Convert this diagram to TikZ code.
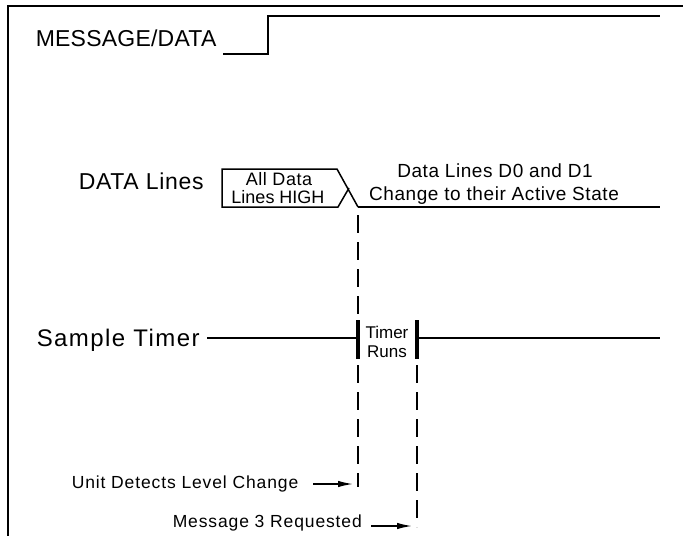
\documentclass[tikz,border=0pt]{standalone}
\usepackage{fontspec}
\setmainfont{Liberation Sans}
\usetikzlibrary{arrows.meta}

\newcommand{\cadfont}[2]{\fontsize{#1}{#1}\selectfont\addfontfeatures{LetterSpace=#2}}

\begin{document}
\begin{tikzpicture}[x=1pt, y=-1pt, line width=1.5pt,
    lbl/.style={inner sep=0pt, anchor=base west},
    ctr/.style={inner sep=0pt, anchor=base},
    bar/.style={line width=3.5pt},
    marker/.style={dash pattern=on 18pt off 9pt},
    arr/.style={-{Latex[length=15pt,width=6.5pt]}}]
        \useasboundingbox (0,0) rectangle (683,536);
        \draw (683,6) -- (8,6) -- (8,536);
        % message/data
        \node[lbl, font=\cadfont{23}{1}] (msg) at (35,46) {MESSAGE/DATA};
        \draw (223,54) -- (268,54) -- (268,16) -- (660,16);
        % data lines
        \node[lbl, font=\cadfont{23}{3}] (dl) at (78,189) {DATA Lines};
        \draw (358,207) -- (337,169) -- (222,169) -- (222,207) -- (338,207) -- (349,188);
        \draw (358,207) -- (660,207);
        \node[ctr, font=\cadfont{18}{3}] (high1) at (279,185) {All Data};
        \node[ctr, font=\cadfont{18}{0}] (high2) at (278,203) {Lines HIGH};
        \node[ctr, font=\cadfont{19}{3}] (act1) at (495,177) {Data Lines D0 and D1};
        \node[ctr, font=\cadfont{19}{3}] (act2) at (494,200) {Change to their Active State};
        % sample timer
        \node[lbl, font=\cadfont{24}{6}] (st) at (36,346) {Sample Timer};
        \coordinate (t1) at (358,338);
        \coordinate (t2) at (417,338);
        \draw (207,338) -- (t1);
        \draw (t2) -- (660,338);
        \draw[bar] (358,320) -- (358,359);
        \draw[bar] (417,320) -- (417,359);
        \node[ctr, font=\cadfont{17}{0}] (run1) at (387,338) {Timer};
        \node[ctr, font=\cadfont{17}{0}] (run2) at (387,357) {Runs};
        % markers
        \draw[marker] (358,215) -- (358,316);
        \draw[marker] (358,365) -- (358,487);
        \draw[marker] (417,365) -- (417,527);
        \node[lbl, font=\cadfont{17.5}{5}] (det) at (71,488) {Unit Detects Level Change};
        \node[lbl, font=\cadfont{17.5}{5}] (req) at (172,527) {Message 3 Requested};
        \coordinate (det-end) at (353,484);
        \coordinate (req-end) at (412,526);
        \draw[arr] (313,484) -- (det-end);
        \draw[arr] (371,526) -- (req-end);
      \end{tikzpicture}
\end{document}
